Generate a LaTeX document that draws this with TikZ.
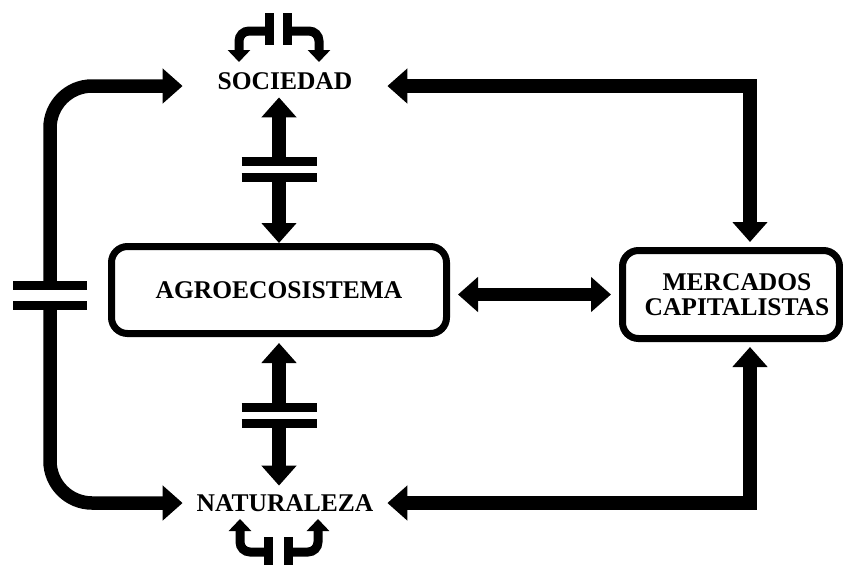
\documentclass[tikz,border=0pt]{standalone}
\usepackage{fontspec}
\setmainfont{Liberation Serif}
\usetikzlibrary{arrows.meta,calc}

\begin{document}
\begin{tikzpicture}[x=0.5pt,y=-0.5pt,
  font=\fontsize{12.75}{12.5}\selectfont\bfseries,
  big/.style={line width=6.75pt},
  thin/.style={line width=4.5pt},
  bigtip/.style={-{Triangle[width=17pt,length=10pt]}},
  bigboth/.style={{Triangle[width=17pt,length=10pt]}-{Triangle[width=17pt,length=10pt]}},
  smalltip/.style={-{Triangle[width=11pt,length=6pt]}},
  barmark/.style={line width=4.5pt},
  boxnode/.style={draw,line width=3.5pt,rounded corners=8pt,align=center,inner sep=0pt},
  label/.style={inner sep=0pt,minimum width=102pt}]
\clip (0,0) rectangle (843,564);
\fill[white] (0,0) rectangle (843,564);

% labels and boxes
\node[label,text height=7.25pt,text depth=3.75pt] (soc) at (285,86) {SOCIEDAD};
\node[label,text height=12.72pt,text depth=4.28pt] (nat) at (285,503) {NATURALEZA};
\node[boxnode,minimum width=167.5pt,minimum height=43.5pt] (agro) at (279,290) {AGROECOSISTEMA};
\node[boxnode,minimum width=108.5pt,minimum height=44pt] (merc) at (731,294.5)
  {\hspace*{6pt}MERCADOS\\\hspace*{6pt}CAPITALISTAS};

% break points of the interrupted links
\coordinate (brkA) at (279,169.5);
\coordinate (brkB) at (279,415);
\coordinate (brkL) at (50,295);

% SOCIEDAD <-> AGROECOSISTEMA (interrupted)
\draw[big,bigtip] ($(brkA)+(0,-8)$) -- (soc.south -| brkA);
\draw[big,bigtip] ($(brkA)+(0,8)$) -- (agro.north);
\draw[barmark] ($(brkA)+(-37.5,-8)$) -- ++(75,0);
\draw[barmark] ($(brkA)+(-37.5,8)$) -- ++(75,0);

% AGROECOSISTEMA <-> NATURALEZA (interrupted)
\draw[big,bigtip] ($(brkB)+(0,-8)$) -- ($(agro.south)+(0,6)$);
\draw[big,bigtip] ($(brkB)+(0,8)$) -- (nat.north -| brkB);
\draw[barmark] ($(brkB)+(-37.5,-8)$) -- ++(75,0);
\draw[barmark] ($(brkB)+(-37.5,8)$) -- ++(75,0);

% left loop SOCIEDAD <-> NATURALEZA (interrupted)
\draw[big,bigtip,rounded corners=21pt] ($(brkL)+(0,-10)$) |- (soc.west);
\draw[big,bigtip,rounded corners=21pt] ($(brkL)+(0,10)$) |- (nat.west);
\draw[barmark] ($(brkL)+(-37,-10)$) -- ++(74,0);
\draw[barmark] ($(brkL)+(-37,10)$) -- ++(74,0);

% AGROECOSISTEMA <-> MERCADOS CAPITALISTAS
\draw[big,bigboth,shorten <=4pt,shorten >=4pt] (agro.east |- merc.west) -- (merc.west);

% MERCADOS CAPITALISTAS <-> SOCIEDAD / NATURALEZA
\draw[big,bigboth,line join=miter] (soc.east) -| ($(merc.north)+(19,-5)$);
\draw[big,bigboth,line join=miter] (nat.east) -| ($(merc.south)+(19,5)$);

% split self-links above SOCIEDAD
\coordinate (sL) at (269,31);
\coordinate (sR) at (287.5,31);
\coordinate (sLt) at (239,62);
\coordinate (sRt) at (319,62);
\draw[thin] (269,13) -- (269,45);
\draw[thin] (287.5,13) -- (287.5,45);
\draw[thin,smalltip,rounded corners=5pt] (sL) -| (sLt);
\draw[thin,smalltip,rounded corners=5pt] (sR) -| (sRt);

% split self-links below NATURALEZA
\coordinate (nL) at (268,552);
\coordinate (nR) at (288,552);
\coordinate (nLt) at (240,519);
\coordinate (nRt) at (318,519);
\draw[thin] (268,537) -- (268,575);
\draw[thin] (288,537) -- (288,575);
\draw[thin,smalltip,rounded corners=5pt] (nL) -| (nLt);
\draw[thin,smalltip,rounded corners=5pt] (nR) -| (nRt);
\end{tikzpicture}
\end{document}
